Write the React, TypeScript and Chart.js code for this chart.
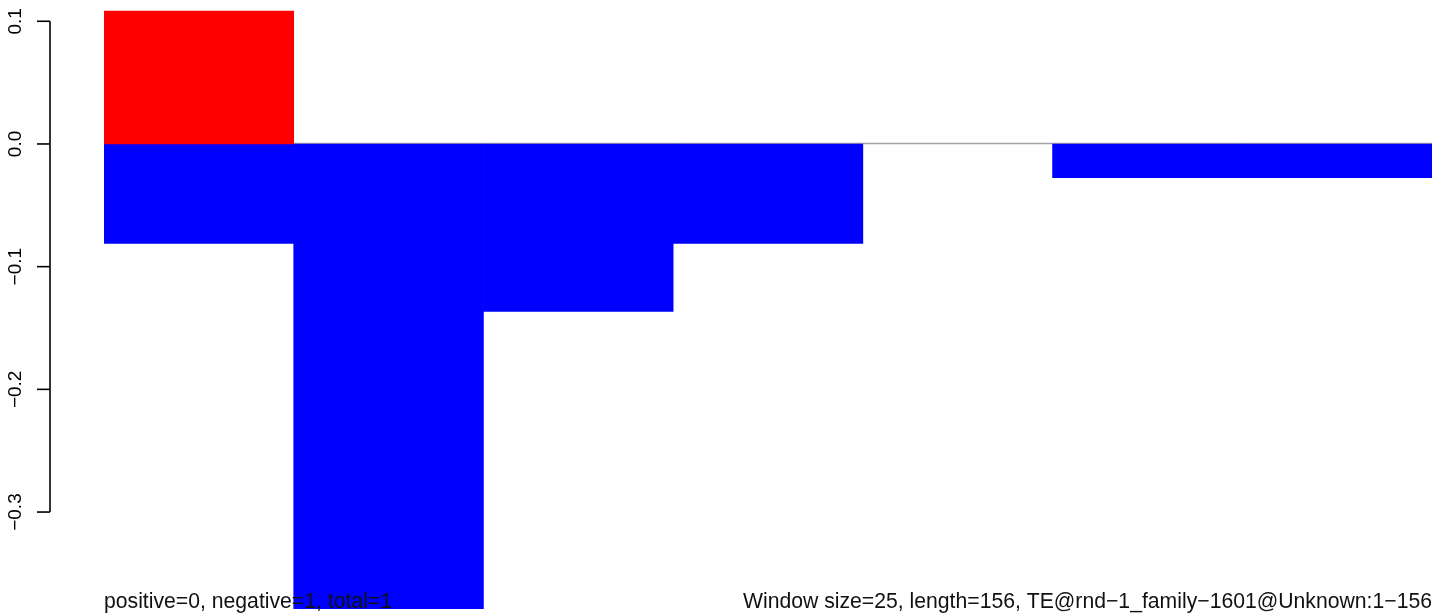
import React, { useEffect, useRef } from "react";
import { Chart, registerables } from "chart.js";

Chart.register(...registerables);

const categories = ["1-25", "26-50", "51-75", "76-100", "101-125", "126-150", "151-156"];
const positiveValues = [0.1084, 0, 0, 0, 0, 0, 0];
const negativeValues = [-0.0811, -0.3787, -0.1365, -0.0811, 0, -0.0275, -0.0275];
const yTickValues = [0.1, 0.0, -0.1, -0.2, -0.3];
const yTickLabels = ["0.1", "0.0", "\u22120.1", "\u22120.2", "\u22120.3"];
const leftNote = "positive=0, negative=1, total=1";
const rightNote = "Window size=25, length=156, TE@rnd\u22121_family\u22121601@Unknown:1\u2212156";

const FONT = '"Liberation Sans", Arial, Helvetica, sans-serif';

// zero-height bars are not drawn (R draws nothing for them)
const nonZero = (arr: number[]) => arr.map((v) => (v === 0 ? null : v));

const zeroLinePlugin = {
  id: "zeroLine",
  beforeDatasetsDraw(chart: any) {
    const { ctx, chartArea, scales } = chart;
    const y = scales.y.getPixelForValue(0);
    ctx.save();
    ctx.strokeStyle = "#a3a3a3";
    ctx.lineWidth = 1.5;
    ctx.beginPath();
    ctx.moveTo(chartArea.left, y - 0.5);
    ctx.lineTo(chartArea.right, y - 0.5);
    ctx.stroke();
    ctx.restore();
  },
};

const axisPlugin = {
  id: "rAxis",
  afterDatasetsDraw(chart: any) {
    const { ctx, chartArea, scales } = chart;
    const ys = scales.y;
    const axisX = 50;
    ctx.save();
    ctx.strokeStyle = "#000";
    ctx.lineWidth = 1.6;
    ctx.beginPath();
    ctx.moveTo(axisX, ys.getPixelForValue(yTickValues[0]));
    ctx.lineTo(axisX, ys.getPixelForValue(yTickValues[yTickValues.length - 1]));
    ctx.stroke();
    ctx.fillStyle = "#000";
    ctx.font = `19px ${FONT}`;
    ctx.textAlign = "center";
    ctx.textBaseline = "alphabetic";
    yTickValues.forEach((v, i) => {
      const py = ys.getPixelForValue(v);
      ctx.beginPath();
      ctx.moveTo(37, py);
      ctx.lineTo(axisX, py);
      ctx.stroke();
      ctx.save();
      ctx.translate(21, py);
      ctx.rotate(-Math.PI / 2);
      ctx.fillText(yTickLabels[i], 0, 0);
      ctx.restore();
    });
    // bottom notes
    ctx.font = `21.2px ${FONT}`;
    ctx.fillStyle = "#111";
    ctx.textAlign = "left";
    ctx.fillText(leftNote, chartArea.left, 607.5);
    ctx.textAlign = "right";
    ctx.fillText(rightNote, chartArea.right, 607.5);
    ctx.restore();
  },
};

export default function App() {
  const canvasRef = useRef<HTMLCanvasElement | null>(null);

  useEffect(() => {
    document.body.style.margin = "0";
    const canvas = canvasRef.current;
    if (!canvas) return;
    const chart = new Chart(canvas, {
      type: "bar",
      data: {
        labels: categories,
        datasets: [
          {
            label: "positive",
            data: nonZero(positiveValues),
            backgroundColor: "#ff0000",
            borderWidth: 0,
            barPercentage: 1,
            categoryPercentage: 1,
          },
          {
            label: "negative",
            data: nonZero(negativeValues),
            backgroundColor: "#0000ff",
            borderWidth: 0,
            barPercentage: 1,
            categoryPercentage: 1,
          },
        ],
      },
      options: {
        responsive: false,
        animation: false,
        devicePixelRatio: 1,
        layout: { padding: { left: 104, right: 9, top: 9, bottom: 2.8 } },
        plugins: {
          legend: { display: false },
          tooltip: { enabled: false },
          title: { display: false },
        },
        scales: {
          x: { stacked: true, display: false, offset: true },
          y: { stacked: true, display: false, min: -0.38, max: 0.11 },
        },
      },
      plugins: [zeroLinePlugin, axisPlugin],
    });
    return () => chart.destroy();
  }, []);

  return (
    <div style={{ position: "absolute", left: 0, top: 0, width: 1441, height: 613, background: "#fff" }}>
      <canvas ref={canvasRef} width={1441} height={613} style={{ display: "block" }} />
    </div>
  );
}
